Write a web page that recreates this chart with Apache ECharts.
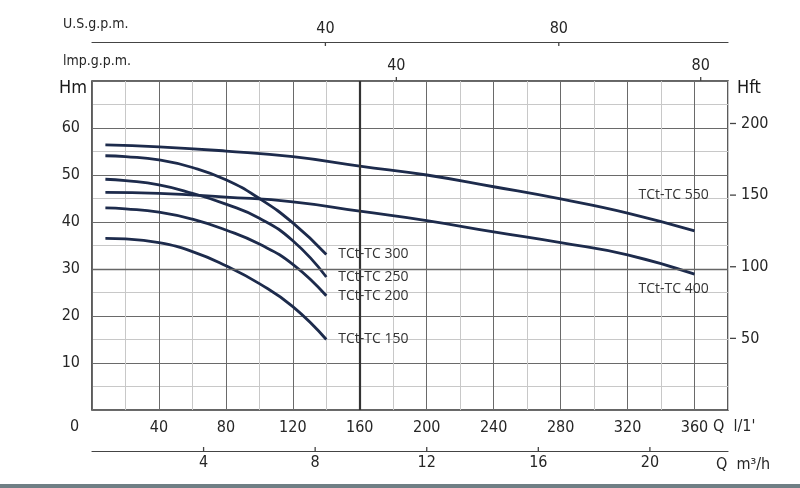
<!DOCTYPE html>
<html>
<head>
<meta charset="utf-8">
<script src="https://cdn.jsdelivr.net/npm/echarts@6/dist/echarts.min.js"></script>
<style>
html,body{margin:0;padding:0;background:#fff;}
#chart{width:800px;height:488px;}
</style>
</head>
<body>
<div id="chart"></div>
<script>
// ---- data (flow in l/min, head in m) ----
const flowShort = [8, 20, 40, 60, 80, 100, 120, 140];
const flowLong  = [8, 40, 80, 120, 160, 200, 240, 280, 320, 360];
const head150 = [36.5, 36.4, 35.6, 33.7, 30.7, 26.9, 22.0, 15.0];
const head200 = [43.0, 42.8, 42.1, 40.6, 38.3, 35.3, 31.0, 24.3];
const head250 = [49.1, 48.8, 47.9, 46.1, 43.8, 40.8, 36.0, 28.3];
const head300 = [54.1, 53.9, 53.2, 51.6, 49.0, 45.0, 39.8, 33.1];
const head400 = [46.3, 46.1, 45.3, 44.3, 42.3, 40.3, 37.9, 35.6, 33.0, 28.9];
const head550 = [56.4, 56.0, 55.1, 53.9, 51.9, 50.0, 47.5, 44.9, 41.9, 38.1];
const qTicks   = [40, 80, 120, 160, 200, 240, 280, 320, 360];
const hmTicks  = [10, 20, 30, 40, 50, 60];
const hftTicks = [50, 100, 150, 200];
const usTicks  = [40, 80];
const impTicks = [40, 80];
const m3hTicks = [4, 8, 12, 16, 20];

const Q_MAX = 380, H_MAX = 70;
const AX_FONT = 'DejaVu Sans Condensed';
const TXT = '#262626';
const LINE_COLOR = '#1d2b4c';
const TICK = {width:1.3, height:4, lineHeight:4, backgroundColor:'#444'};

function pairs(xs, ys){ return xs.map((x,i)=>[x, ys[i]]); }

const chart = echarts.init(document.getElementById('chart'), null, {renderer:'canvas'});

function curve(name, xs, ys, endLabel){
  return {
    name, type:'line', data: pairs(xs, ys), smooth:0.5, symbol:'none',
    xAxisIndex:0, yAxisIndex:0, silent:true,
    lineStyle:{color:LINE_COLOR, width:2.8},
    endLabel: Object.assign({show:true, formatter:name, color:'#333',
      fontFamily:'Open Sans', fontSize:14}, endLabel)
  };
}

const series = [
  curve('TCt-TC 150', flowShort, head150, {distance:12}),
  curve('TCt-TC 200', flowShort, head200, {distance:12}),
  curve('TCt-TC 250', flowShort, head250, {distance:12}),
  curve('TCt-TC 300', flowShort, head300, {distance:12}),
  curve('TCt-TC 400', flowLong, head400, {distance:5, offset:[-61, 15]}),
  curve('TCt-TC 550', flowLong, head550, {distance:5, offset:[-61, -36]}),
  { type:'line', data:[], xAxisIndex:0, yAxisIndex:0, silent:true,
    markLine:{ silent:true, symbol:'none', label:{show:false},
      data:[
        {xAxis:160, lineStyle:{color:'#333', width:2.2, type:'solid'}},
        {yAxis:30, lineStyle:{color:'#666', width:1.4, type:'solid'}}
      ] } }
];

const numStyle = {fontFamily:AX_FONT, fontSize:16, color:TXT};

const option = {
  backgroundColor:'#fff',
  animation:false,
  grid:{left:92, right:72, top:81, bottom:78, show:true, borderColor:'#333', borderWidth:1.6, backgroundColor:'transparent'},
  xAxis:[
    { type:'value', position:'bottom', min:0, max:Q_MAX, interval:20,
      axisLine:{show:false}, axisTick:{show:false},
      axisLabel:Object.assign({customValues:qTicks, margin:10}, numStyle),
      splitLine:{show:true, lineStyle:{color:['#6a6a6a','#c8c8c8'], width:1}} },
    { type:'value', position:'top', offset:0, min:0, max:Q_MAX/4.54609,
      axisLine:{show:false}, axisTick:{show:false},
      axisLabel:{customValues:impTicks, margin:0,
        formatter: v => '{v|' + v + '}\n{t| }',
        rich:{ v:Object.assign({lineHeight:17, padding:[0,0,6,0]}, numStyle), t:TICK }},
      splitLine:{show:false} },
    { type:'value', position:'top', offset:39, min:0, max:109,
      axisLine:{show:true, onZero:false, lineStyle:{color:'#444', width:1.2}},
      axisTick:{show:false},
      axisLabel:{customValues:usTicks, margin:-4,
        formatter: v => '{v|' + v + '}\n{t| }',
        rich:{ v:Object.assign({lineHeight:17, padding:[0,0,9,0]}, numStyle), t:TICK }},
      splitLine:{show:false} },
    { type:'value', position:'bottom', offset:41, min:0, max:Q_MAX*60/1000,
      axisLine:{show:true, onZero:false, lineStyle:{color:'#444', width:1.2}},
      axisTick:{show:false},
      axisLabel:{customValues:m3hTicks, margin:-4,
        formatter: v => '{t| }\n{v|' + v + '}',
        rich:{ v:Object.assign({lineHeight:17, padding:[7,0,0,0]}, numStyle), t:TICK }},
      splitLine:{show:false} }
  ],
  yAxis:[
    { type:'value', position:'left', min:0, max:H_MAX, interval:5,
      axisLine:{show:false}, axisTick:{show:false},
      axisLabel:Object.assign({customValues:hmTicks, margin:12}, numStyle),
      splitLine:{show:true, lineStyle:{color:['#6a6a6a','#c8c8c8'], width:1}} },
    { type:'value', position:'right', min:0, max:H_MAX/0.3048,
      axisLine:{show:false}, axisTick:{show:false},
      axisLabel:{customValues:hftTicks, margin:2,
        formatter: v => '{t| }{v|' + v + '}',
        rich:{ v:Object.assign({lineHeight:17, padding:[0,0,0,5], verticalAlign:'middle'}, numStyle),
               t:{width:6, height:1.3, lineHeight:17, backgroundColor:'#444', verticalAlign:'middle'} }},
      splitLine:{show:false} }
  ],
  series,
  graphic:[
    {type:'text', left:63, top:17, style:{text:'U.S.g.p.m.', fill:TXT, font:'14px "DejaVu Sans Condensed"'}},
    {type:'text', left:63, top:54, style:{text:'lmp.g.p.m.', fill:TXT, font:'14px "DejaVu Sans Condensed"'}},
    {type:'text', left:59, top:79, style:{text:'Hm', fill:'#1a1a1a', font:'18px "DejaVu Sans Condensed"'}},
    {type:'text', left:737, top:79, style:{text:'Hft', fill:'#1a1a1a', font:'18px "DejaVu Sans Condensed"'}},
    {type:'text', left:70, top:419, style:{text:'0', fill:TXT, font:'16px "DejaVu Sans Condensed"'}},
    {type:'text', left:713, top:419, style:{text:"Q  l/1'", fill:TXT, font:'16px "DejaVu Sans Condensed"'}},
    {type:'text', left:716, top:457, style:{text:'Q  m³/h', fill:TXT, font:'16px "DejaVu Sans Condensed"'}},
    {type:'rect', left:0, top:484, shape:{width:800, height:4}, style:{fill:'#6f7f85'}}
  ]
};
chart.setOption(option);
</script>
</body>
</html>
